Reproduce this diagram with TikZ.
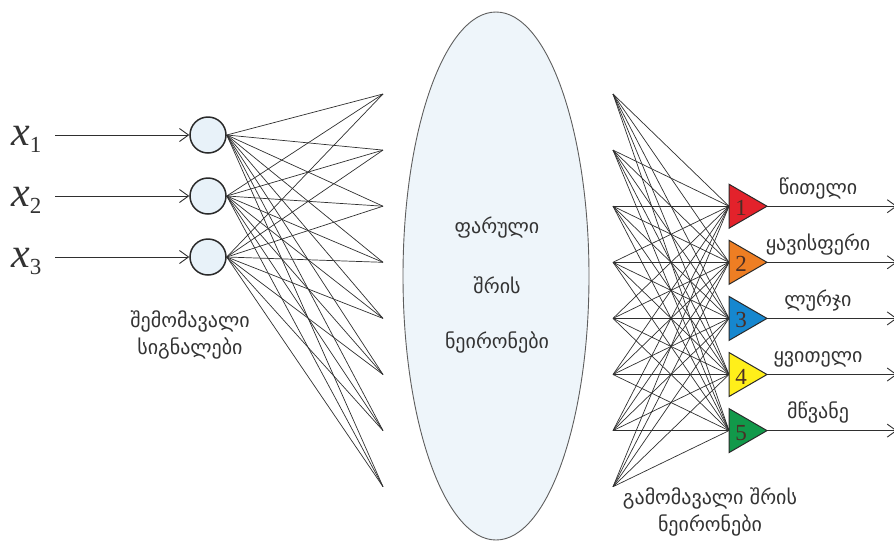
\documentclass[tikz,border=0pt]{standalone}
\usepackage{fontspec}
\newfontfamily\geo{DejaVu Sans}
\newfontfamily\tms{Liberation Serif}
\usetikzlibrary{arrows.meta}

\definecolor{wirecol}{HTML}{2F2F2F}
\definecolor{edgecol}{HTML}{2A2A2A}
\definecolor{txtcol}{HTML}{333333}
\definecolor{cellfill}{HTML}{E8F2F9}
\definecolor{ovalfill}{HTML}{EEF5FA}
\definecolor{ovaledge}{HTML}{5E5E5E}
\definecolor{nred}{HTML}{E3222B}
\definecolor{norange}{HTML}{EE7E23}
\definecolor{nblue}{HTML}{1687CF}
\definecolor{nyellow}{HTML}{FFEF1A}
\definecolor{ngreen}{HTML}{11994A}
\definecolor{digitcol}{HTML}{4A2E25}

\tikzset{
  wire/.style={draw=wirecol, line width=0.7pt},
  sig/.style={draw=wirecol, line width=0.9pt, -{Straight Barb[length=9pt,width=13pt]}},
  incell/.style={circle, draw=edgecol, fill=cellfill, line width=1.5pt,
    minimum size=36pt, inner sep=0pt},
  varlabel/.style={text=txtcol, inner sep=0pt, font=\tms\fontsize{42}{42}\selectfont},
  geotext/.style={text=txtcol, inner sep=0pt, font=\geo\fontsize{20}{24}\selectfont},
  outcell/.style={draw=edgecol, line width=1pt},
  digit/.style={text=digitcol, inner sep=0pt, font=\tms\fontsize{23}{23}\selectfont},
}

\begin{document}
\begin{tikzpicture}[x=1pt, y=-1pt]
\useasboundingbox (0,0) rectangle (894,542);

% hidden layer oval
\draw[fill=ovalfill, draw=ovaledge, line width=0.9pt] (496,276) ellipse [x radius=93, y radius=264];
\node[geotext] (h1) at (497,228) {ფარული};
\node[geotext] (h2) at (497,285) {შრის};
\node[geotext] (h3) at (497,342) {ნეირონები};

% fan-in / fan-out points on both sides of the oval
\foreach \j in {1,...,8} {
  \coordinate (hL\j) at (383, {94+56.1*(\j-1)});
  \coordinate (hR\j) at (613, {94+56.1*(\j-1)});
}

% input signals
\foreach \i/\y in {1/135, 2/196, 3/257} {
  \node[varlabel, anchor=base west] (x\i) at (11,\y+10) {\itshape x\raisebox{-7pt}{\fontsize{23}{23}\selectfont\upshape\i}};
  \coordinate (s\i) at (55,\y);
}
\foreach \i/\y in {1/135, 2/196, 3/257}
  \node[incell] (c\i) at (208,\y) {};

\foreach \i in {1,2,3} {
  \foreach \j in {1,...,8}
    \draw[wire] (c\i.east) -- (hL\j);
}
\foreach \i in {1,2,3}
  \draw[sig] (s\i) -- (c\i.west);

\node[geotext, align=center] (inlabel) at (190,335) {შემომავალი\\[3pt]სიგნალები};

% output neurons
\foreach \k/\j in {1/3, 2/4, 3/5, 4/6, 5/7} {
  \path (hR\j) ++(116,0) coordinate (t\k);
  \path (t\k) ++(38,0) coordinate (o\k);
  \path (t\k) ++(168,0) coordinate (e\k);
}
\foreach \j in {1,...,8} {
  \foreach \k in {1,...,5}
    \draw[wire] (hR\j) -- (t\k);
}
\foreach \k/\col in {1/nred, 2/norange, 3/nblue, 4/nyellow, 5/ngreen} {
  \draw[sig] (o\k) -- (e\k);
  \filldraw[outcell, fill=\col] (t\k) ++(0,-22) -- ++(38,22) -- ++(-38,22) -- cycle;
  \path (t\k) ++(12,2) node[digit] (d\k) {\k};
}

\node[geotext, anchor=base] (n1) at ([yshift=12pt]o1 -| 818,0) {წითელი};
\node[geotext, anchor=base] (n2) at ([yshift=12pt]o2 -| 818,0) {ყავისფერი};
\node[geotext, anchor=base] (n3) at ([yshift=12pt]o3 -| 818,0) {ლურჯი};
\node[geotext, anchor=base] (n4) at ([yshift=12pt]o4 -| 818,0) {ყვითელი};
\node[geotext, anchor=base] (n5) at ([yshift=12pt]o5 -| 818,0) {მწვანე};

\node[geotext, align=center] (outlabel) at (710,512) {გამომავალი შრის\\[3pt]ნეირონები};
\end{tikzpicture}
\end{document}
